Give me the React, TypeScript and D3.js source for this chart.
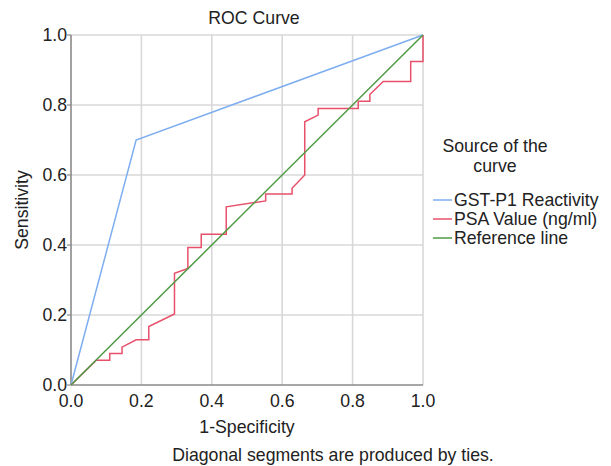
import React from 'react'
import * as d3 from 'd3'

// GST-P1 Reactivity ROC points
const gstFpr = [0, 0.185, 1]
const gstTpr = [0, 0.7, 1]

// PSA Value ROC points (step curve)
const psaFpr = [
  0, 0.072, 0.11, 0.11, 0.145, 0.145, 0.185, 0.221, 0.221, 0.294, 0.294, 0.332,
  0.332, 0.37, 0.37, 0.441, 0.441, 0.553, 0.553, 0.628, 0.628, 0.664, 0.664,
  0.702, 0.702, 0.816, 0.816, 0.849, 0.849, 0.887, 0.965, 0.965, 1, 1
]
const psaTpr = [
  0, 0.071, 0.071, 0.09, 0.09, 0.108, 0.129, 0.129, 0.167, 0.203, 0.319, 0.333,
  0.393, 0.393, 0.431, 0.431, 0.509, 0.526, 0.546, 0.546, 0.562, 0.6, 0.752,
  0.771, 0.79, 0.79, 0.811, 0.811, 0.83, 0.867, 0.867, 0.924, 0.924, 1
]

const refFpr = [0, 1]
const refTpr = [0, 1]

const ticks = [0, 0.2, 0.4, 0.6, 0.8, 1.0]

const seriesNames = ['GST-P1 Reactivity', 'PSA Value (ng/ml)', 'Reference line']
const seriesColors = ['#7eaef0', '#e8506a', '#4f9a45']

const font = '"Liberation Sans", Arial, Helvetica, sans-serif'
const fs = 17.7

export default function App() {
  const width = 611,
    height = 466,
    margin = { top: 35, right: 188, bottom: 81, left: 71 }

  const x = d3
    .scaleLinear()
    .domain([0, 1])
    .range([margin.left, width - margin.right])
  const y = d3
    .scaleLinear()
    .domain([0, 1])
    .range([height - margin.bottom, margin.top])

  const line = (xs: number[], ys: number[]) =>
    d3
      .line<number>()
      .x(i => x(xs[i]))
      .y(i => y(ys[i]))(d3.range(xs.length)) || ''

  const series = [
    { xs: gstFpr, ys: gstTpr },
    { xs: psaFpr, ys: psaTpr },
    { xs: refFpr, ys: refTpr }
  ]

  const midX = (x(0) + x(1)) / 2
  const midY = (y(0) + y(1)) / 2

  return (
    <svg
      width={width}
      height={height}
      style={{ position: 'absolute', left: 0, top: 0, background: '#fff' }}
      fontFamily={font}>
      <rect width={width} height={height} fill='#fff' />

      <text x={254} y={24} fontSize={fs} textAnchor='middle' fill='#222'>
        ROC Curve
      </text>

      {/* grid */}
      {ticks.slice(1).map(t => (
        <g key={t}>
          <line
            x1={x(t)}
            x2={x(t)}
            y1={y(0)}
            y2={y(1)}
            stroke='#d8d8d8'
            strokeWidth={1.6}
          />
          <line
            x1={x(0)}
            x2={x(1)}
            y1={y(t)}
            y2={y(t)}
            stroke='#d8d8d8'
            strokeWidth={1.6}
          />
        </g>
      ))}

      {/* axes */}
      <line x1={x(0)} x2={x(0)} y1={y(0)} y2={y(1)} stroke='#8a8a8a' strokeWidth={1.6} />
      <line x1={x(0)} x2={x(1)} y1={y(0)} y2={y(0)} stroke='#8a8a8a' strokeWidth={1.6} />

      {ticks.map(t => (
        <g key={'t' + t}>
          <line x1={x(0) - 4} x2={x(0)} y1={y(t)} y2={y(t)} stroke='#8a8a8a' strokeWidth={1.2} />
          <text
            x={x(0) - 4}
            y={y(t) + 6}
            fontSize={fs}
            textAnchor='end'
            fill='#222'>
            {t.toFixed(1)}
          </text>
          <text x={x(t)} y={407} fontSize={fs} textAnchor='middle' fill='#222'>
            {t.toFixed(1)}
          </text>
        </g>
      ))}

      <text
        transform={`translate(28,${midY}) rotate(-90)`}
        fontSize={fs}
        textAnchor='middle'
        fill='#222'>
        Sensitivity
      </text>
      <text x={midX} y={433} fontSize={fs} textAnchor='middle' fill='#222'>
        1-Specificity
      </text>
      <text x={333} y={461} fontSize={fs} textAnchor='middle' fill='#222'>
        Diagonal segments are produced by ties.
      </text>

      {/* curves */}
      {series.map((s, i) => (
        <path
          key={i}
          d={line(s.xs, s.ys)}
          fill='none'
          stroke={seriesColors[i]}
          strokeWidth={1.5}
        />
      ))}

      {/* legend */}
      <g fontSize={fs} fill='#222'>
        <text x={495} y={152} textAnchor='middle'>
          Source of the
        </text>
        <text x={495} y={172} textAnchor='middle'>
          curve
        </text>
        {seriesNames.map((n, i) => (
          <g key={n} transform={`translate(433,${200 + i * 19})`}>
            <line x1={0} x2={19} y1={0} y2={0} stroke={seriesColors[i]} strokeWidth={1.5} />
            <text x={21} y={6}>
              {n}
            </text>
          </g>
        ))}
      </g>
    </svg>
  )
}
